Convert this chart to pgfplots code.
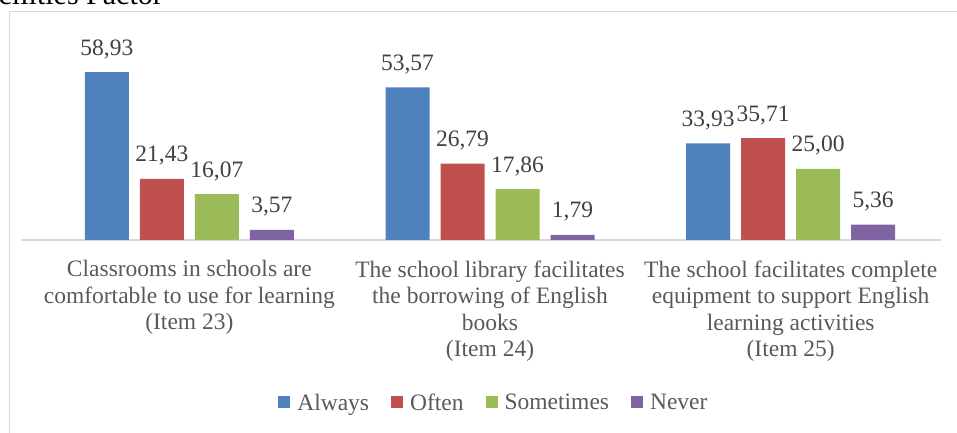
\documentclass[border=0pt]{standalone}
\usepackage{pgfplots}
\pgfplotsset{compat=1.18}
\usepackage{fontspec}
\setmainfont{Liberation Serif}
\definecolor{cBlue}{HTML}{4F81BD}
\definecolor{cRed}{HTML}{C0504D}
\definecolor{cGreen}{HTML}{9BBB59}
\definecolor{cPurple}{HTML}{8064A2}
\definecolor{frameGray}{HTML}{D9D9D9}
\definecolor{textGray}{HTML}{595959}
\definecolor{labelGray}{HTML}{404040}
\newcommand{\lblfont}{\fontsize{23.5}{26.5}\selectfont}
\begin{document}
\begin{tikzpicture}[x=1pt,y=1pt]
\useasboundingbox (0,0) rectangle (957,433);
% chart frame, only top and left edge are inside the picture
\draw[frameGray, line width=1pt] (9.5,-30) -- (9.5,421.5) -- (990,421.5);
\node[anchor=base east, inner sep=0pt, font=\fontsize{30}{32}\selectfont] at (163,428) {Facilities Factor};
\begin{axis}[
	at={(21pt,193pt)}, anchor=south west,
	scale only axis, width=920pt, height=171pt,
	xmin=-0.56, xmax=2.5, ymin=0, ymax=60,
	ybar=11pt, bar width=44pt,
	axis x line=bottom, axis y line=none,
	x axis line style={draw=frameGray, line width=1.5pt, -},
	ytick=\empty, xtick={0,1,2}, major tick length=0pt,
	xticklabels={
		{Classrooms in schools are\\comfortable to use for learning\\(Item 23)},
		{The school library facilitates\\the borrowing of English\\books\\(Item 24)},
		{The school facilitates complete\\equipment to support English\\learning activities\\(Item 25)}},
	xticklabel style={align=center, font=\lblfont, text=textGray, anchor=north, yshift=-17pt},
	nodes near coords,
	every node near coord/.append style={font=\lblfont, text=labelGray, anchor=base, yshift=17pt},
	/pgf/number format/.cd, use comma, fixed, fixed zerofill, precision=2, assume math mode=true,
	/pgfplots/.cd,
	clip=false,
	legend columns=4,
	legend style={at={(0.514,-0.953)}, anchor=center, draw=none, fill=none,
		font=\lblfont, text=textGray,
		/tikz/every odd column/.append style={column sep=5pt},
		/tikz/every even column/.append style={column sep=20pt}},
	legend image code/.code={\fill[#1, draw=none] (0pt,-5pt) rectangle (12pt,7pt);},
]
\addplot[fill=cBlue, draw=none] coordinates {(0,58.93) (1,53.57) (2,33.93)};
\addplot[fill=cRed, draw=none] coordinates {(0,21.43) (1,26.79) (2,35.71)};
\addplot[fill=cGreen, draw=none] coordinates {(0,16.07) (1,17.86) (2,25.00)};
\addplot[fill=cPurple, draw=none] coordinates {(0,3.57) (1,1.79) (2,5.36)};
\legend{Always,Often,Sometimes,Never}
\end{axis}
\end{tikzpicture}
\end{document}
